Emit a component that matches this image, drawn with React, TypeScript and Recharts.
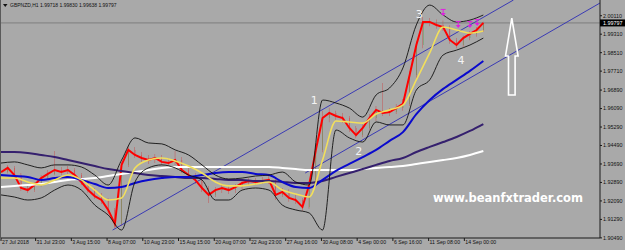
import React from 'react';
import {
  ComposedChart,
  Line,
  Bar,
  Cell,
  Scatter,
  XAxis,
  YAxis,
  ReferenceLine,
} from 'recharts';

// --- Data: GBPNZD H1, x = bar index from the first visible bar ---
const CLOSE_STEP = 12; // one sampled segment every 12 bars
const CLOSES = [
  1.9334, 1.9352, 1.9321, 1.9265, 1.9256, 1.9278, 1.9308, 1.9326, 1.9343, 1.9334,
  1.9343, 1.9321, 1.9291, 1.9256, 1.9230, 1.9213, 1.9170, 1.9109, 1.9365, 1.9430,
  1.9408, 1.9395, 1.9386, 1.9395, 1.9378, 1.9373, 1.9386, 1.9343, 1.9321, 1.9300,
  1.9265, 1.9235, 1.9256, 1.9265, 1.9256, 1.9269, 1.9287, 1.9295, 1.9291, 1.9295,
  1.9300, 1.9235, 1.9248, 1.9222, 1.9213, 1.9183, 1.9278, 1.9430, 1.9568, 1.9590,
  1.9577, 1.9568, 1.9525, 1.9494, 1.9525, 1.9568, 1.9603, 1.9590, 1.9594, 1.9611,
  1.9629, 1.9754, 1.9884, 1.9984, 1.9984, 1.9971, 1.9962, 1.9906, 1.9884, 1.9914,
  1.9932, 1.9949, 1.99797,
];
const HIGHS = [
  1.9352, 1.9365, 1.9360, 1.9330, 1.9278, 1.9290, 1.9321, 1.9343, 1.9425, 1.9356,
  1.9360, 1.9352, 1.9330, 1.9300, 1.9265, 1.9243, 1.9222, 1.9178, 1.9380, 1.9450,
  1.9443, 1.9421, 1.9408, 1.9412, 1.9408, 1.9395, 1.9425, 1.9399, 1.9352, 1.9330,
  1.9308, 1.9274, 1.9269, 1.9282, 1.9278, 1.9282, 1.9300, 1.9308, 1.9308, 1.9313,
  1.9317, 1.9308, 1.9265, 1.9260, 1.9235, 1.9222, 1.9295, 1.9450, 1.9600, 1.9612,
  1.9600, 1.9590, 1.9577, 1.9533, 1.9540, 1.9585, 1.9620, 1.9720, 1.9611, 1.9629,
  1.9650, 1.9770, 1.9900, 2.0005, 2.0001, 1.9995, 1.9990, 1.9970, 1.9915, 1.9925,
  1.9945, 1.9962, 1.9985,
];
const LOWS = [
  1.9318, 1.9328, 1.9308, 1.9252, 1.9243, 1.9248, 1.9270, 1.9300, 1.9320, 1.9321,
  1.9326, 1.9308, 1.9278, 1.9243, 1.9217, 1.9196, 1.9150, 1.9092, 1.9100, 1.9356,
  1.9395, 1.9378, 1.9369, 1.9373, 1.9365, 1.9360, 1.9365, 1.9330, 1.9304, 1.9282,
  1.9248, 1.9200, 1.9226, 1.9243, 1.9239, 1.9243, 1.9260, 1.9278, 1.9278, 1.9282,
  1.9282, 1.9213, 1.9226, 1.9205, 1.9196, 1.9165, 1.9175, 1.9270, 1.9420, 1.9550,
  1.9560, 1.9546, 1.9507, 1.9480, 1.9486, 1.9516, 1.9555, 1.9577, 1.9577, 1.9585,
  1.9600, 1.9620, 1.9740, 1.9870, 1.9965, 1.9955, 1.9945, 1.9890, 1.9870, 1.9875,
  1.9905, 1.9920, 1.9940,
];

const MA_STEP = 24;
const MA_YELLOW = [
  1.9308, 1.9308, 1.9291, 1.9278, 1.9300, 1.9321, 1.9300, 1.9256, 1.9213, 1.9222,
  1.9352, 1.9386, 1.9395, 1.9382, 1.9360, 1.9330, 1.9291, 1.9274, 1.9274, 1.9282,
  1.9291, 1.9256, 1.9239, 1.9226, 1.9386, 1.9555, 1.9551, 1.9546, 1.9585, 1.9603,
  1.9624, 1.9733, 1.9850, 1.9962, 1.9949, 1.9936, 1.9945,
];
const MA_BLUE = [
  1.9321, 1.9317, 1.9313, 1.9300, 1.9308, 1.9313, 1.9300, 1.9282, 1.9265, 1.9269,
  1.9287, 1.9300, 1.9308, 1.9313, 1.9313, 1.9321, 1.9330, 1.9334, 1.9334, 1.9326,
  1.9321, 1.9291, 1.9269, 1.9265, 1.9300, 1.9339, 1.9369, 1.9399, 1.9430, 1.9469,
  1.9507, 1.9585, 1.9646, 1.9694, 1.9733, 1.9772, 1.9815,
];
const MA_PURPLE = [
  1.9421, 1.9421, 1.9417, 1.9408, 1.9399, 1.9386, 1.9373, 1.9360, 1.9347, 1.9339,
  1.9330, 1.9321, 1.9317, 1.9313, 1.9308, 1.9308, 1.9304, 1.9300, 1.9300, 1.9295,
  1.9295, 1.9291, 1.9287, 1.9287, 1.9295, 1.9313, 1.9330, 1.9347, 1.9365, 1.9382,
  1.9395, 1.9421, 1.9443, 1.9464, 1.9486, 1.9512, 1.9542,
];
const MA_WHITE = [
  1.9269, 1.9274, 1.9278, 1.9282, 1.9291, 1.9300, 1.9304, 1.9308, 1.9317, 1.9326,
  1.9334, 1.9343, 1.9352, 1.9356, 1.9356, 1.9356, 1.9356, 1.9356, 1.9356, 1.9356,
  1.9356, 1.9352, 1.9347, 1.9343, 1.9343, 1.9343, 1.9343, 1.9347, 1.9352, 1.9356,
  1.9360, 1.9369, 1.9378, 1.9386, 1.9395, 1.9408, 1.9425,
];
const BB_UPPER = [
  1.9373, 1.9378, 1.9365, 1.9352, 1.9365, 1.9365, 1.9356, 1.9321, 1.9278, 1.9386,
  1.9482, 1.9460, 1.9456, 1.9430, 1.9408, 1.9365, 1.9321, 1.9304, 1.9308, 1.9317,
  1.9321, 1.9334, 1.9291, 1.9278, 1.9646, 1.9633, 1.9611, 1.9572, 1.9668, 1.9698,
  1.9785, 1.9971, 2.0057, 2.0014, 1.9984, 1.9992, 2.0014,
];
const BB_LOWER = [
  1.9235, 1.9226, 1.9213, 1.9222, 1.9256, 1.9278, 1.9256, 1.9191, 1.9148, 1.9083,
  1.9291, 1.9352, 1.9365, 1.9352, 1.9321, 1.9300, 1.9213, 1.9213, 1.9256, 1.9265,
  1.9256, 1.9191, 1.9170, 1.9157, 1.9083, 1.9516, 1.9482, 1.9464, 1.9551, 1.9538,
  1.9538, 1.9689, 1.9733, 1.9841, 1.9862, 1.9884, 1.9914,
];

// hand drawn channel
const CHANNEL_UPPER = [{ bar: 200, price: 1.9083 }, { bar: 918, price: 2.0079 }];
const CHANNEL_LOWER = [{ bar: 545, price: 1.933 }, { bar: 1073, price: 2.0066 }];

const FRACTALS = [
  { bar: 792, price: 2.0023 },
  { bar: 819, price: 1.9971 },
  { bar: 840, price: 1.9971 },
  { bar: 853, price: 1.9979 },
];
const WAVES = [
  { bar: 561, price: 1.9646, label: '1' },
  { bar: 641, price: 1.9421, label: '2' },
  { bar: 749, price: 2.0018, label: '3' },
  { bar: 824, price: 1.9815, label: '4' },
];
const ARROW = [{ bar: 915, price: 2.0001 }];

const LAST_PRICE = 1.99797;
const PRICE_TICKS = [
  2.0011, 1.9931, 1.9851, 1.9771, 1.9689, 1.9609, 1.9529, 1.9449, 1.9369, 1.9289,
  1.9209, 1.9129, 1.9049,
];
const TIME_TICKS = [0, 62, 126, 190, 254, 318, 382, 446, 510, 574, 638, 702, 766, 830];
const TIME_LABELS = [
  '27 Jul 2018', '31 Jul 23:00', '3 Aug 15:00', '8 Aug 07:00', '10 Aug 23:00',
  '15 Aug 15:00', '20 Aug 07:00', '22 Aug 23:00', '27 Aug 16:00', '30 Aug 08:00',
  '4 Sep 00:00', '6 Sep 16:00', '11 Sep 08:00', '14 Sep 00:00',
];

const BG = '#A9A9A9';
const FONT = '"Liberation Sans", Arial, sans-serif';

const toSeries = (values: number[], step: number) =>
  values.map((price, i) => ({ bar: i * step, price }));

const candles = CLOSES.map((close, i) => {
  const open = i === 0 ? close : CLOSES[i - 1];
  return {
    bar: i * CLOSE_STEP,
    open,
    close,
    body: [Math.min(open, close), Math.max(open, close)],
    range: [LOWS[i], HIGHS[i]],
  };
});

const PriceTick = (props: any) => {
  const { x, y, payload } = props;
  const v = payload.value as number;
  if (v === LAST_PRICE) {
    return (
      <g>
        <rect x={x - 3} y={y - 3.5} width={26} height={7} fill="#000" />
        <text x={x} y={y} dy={1.9} fill="#fff" fontSize={5.4} fontFamily={FONT}>{v.toFixed(5)}</text>
      </g>
    );
  }
  return (
    <text x={x} y={y} dy={1.9} fill="#111" fontSize={5.4} fontFamily={FONT}>{v.toFixed(5)}</text>
  );
};

const TimeTick = (props: any) => {
  const { x, payload } = props;
  const label = TIME_LABELS[TIME_TICKS.indexOf(payload.value)];
  return (
    <text x={x + 1} y={243.5} fill="#111" fontSize={5.2} fontFamily={FONT}>{label}</text>
  );
};

const WaveLabel = (props: any) => (
  <text x={props.cx} y={props.cy} textAnchor="middle" dominantBaseline="central"
    fill="#F4F4F4" fontSize={11} fontFamily='"DejaVu Sans", sans-serif'>{props.payload.label}</text>
);

const FractalMark = (props: any) => {
  const { cx, cy } = props;
  return (
    <g stroke="#E020E0" strokeWidth={1} fill="#E020E0">
      <line x1={cx} y1={cy - 3.5} x2={cx} y2={cy + 1} />
      <line x1={cx - 2.5} y1={cy - 3.5} x2={cx + 2.5} y2={cy - 3.5} />
      <path d={`M${cx - 2.5},${cy} L${cx + 2.5},${cy} L${cx},${cy + 3} Z`} stroke="none" />
    </g>
  );
};

const UpArrow = (props: any) => {
  const { cx, cy } = props;
  const d = `M${cx},${cy} L${cx + 6.3},${cy + 38} L${cx + 3.3},${cy + 38} L${cx + 3.3},${cy + 77}
    L${cx - 3.3},${cy + 77} L${cx - 3.3},${cy + 38} L${cx - 6.3},${cy + 38} Z`;
  return <path d={d} fill="none" stroke="#fff" strokeWidth={1.6} strokeLinejoin="miter" />;
};

const App: React.FC = () => {
  return (
    <div style={{ position: 'relative', width: 625, height: 250, background: BG, overflow: 'hidden' }}>
      <style>{'body{margin:0}'}</style>
      <ComposedChart width={625} height={250} data={candles} margin={{ top: 0, right: 0, bottom: 0, left: 1 }} barGap={-4}>
        <XAxis
          dataKey="bar"
          type="number"
          domain={[0, 1073]}
          allowDataOverflow
          ticks={TIME_TICKS}
          interval={0}
          height={12}
          tick={<TimeTick />}
          tickSize={3}
          axisLine={{ stroke: '#1a1a1a', strokeWidth: 1.2 }}
          tickLine={{ stroke: '#1a1a1a' }}
        />
        <YAxis
          orientation="right"
          type="number"
          domain={[1.90485, 2.0079]}
          allowDataOverflow
          ticks={[...PRICE_TICKS, LAST_PRICE]}
          interval={0}
          width={25}
          tick={<PriceTick />}
          tickSize={2}
          tickMargin={1}
          axisLine={{ stroke: '#1a1a1a' }}
          tickLine={{ stroke: '#1a1a1a' }}
        />
        <ReferenceLine y={LAST_PRICE} stroke="#7E7E7E" strokeWidth={1} ifOverflow="hidden" />

        <Line data={CHANNEL_UPPER} dataKey="price" stroke="#3A3AB4" strokeWidth={1} dot={false} isAnimationActive={false} />
        <Line data={CHANNEL_LOWER} dataKey="price" stroke="#3A3AB4" strokeWidth={1} dot={false} isAnimationActive={false} />

        <Line dataKey="close" stroke="#FF0000" strokeWidth={2} dot={false} isAnimationActive={false} />
        <Bar dataKey="range" barSize={2} fill="#E00000" isAnimationActive={false} />
        <Bar dataKey="body" barSize={4} isAnimationActive={false}>
          {candles.map((c, i) => (
            <Cell key={`c-${i}`} fill={c.close > c.open ? '#1FA01F' : '#FF0000'} />
          ))}
        </Bar>

        <Line data={toSeries(MA_WHITE, MA_STEP)} dataKey="price" type="monotone" stroke="#FFFFFF" strokeWidth={2} dot={false} isAnimationActive={false} />
        <Line data={toSeries(MA_PURPLE, MA_STEP)} dataKey="price" type="monotone" stroke="#35206E" strokeWidth={2} dot={false} isAnimationActive={false} />
        <Line data={toSeries(MA_BLUE, MA_STEP)} dataKey="price" type="monotone" stroke="#0A0ACD" strokeWidth={2} dot={false} isAnimationActive={false} />
        <Line data={toSeries(BB_UPPER, MA_STEP)} dataKey="price" type="monotone" stroke="#111111" strokeWidth={0.9} dot={false} isAnimationActive={false} />
        <Line data={toSeries(BB_LOWER, MA_STEP)} dataKey="price" type="monotone" stroke="#111111" strokeWidth={0.9} dot={false} isAnimationActive={false} />
        <Line data={toSeries(MA_YELLOW, MA_STEP)} dataKey="price" type="monotone" stroke="#F2DF5C" strokeWidth={1.6} dot={false} isAnimationActive={false} />

        <Scatter data={FRACTALS} dataKey="price" shape={<FractalMark />} isAnimationActive={false} />
        <Scatter data={WAVES} dataKey="price" shape={<WaveLabel />} isAnimationActive={false} />
        <Scatter data={ARROW} dataKey="price" shape={<UpArrow />} isAnimationActive={false} />
      </ComposedChart>

      {/* frame, header and watermark */}
      <div style={{ position: 'absolute', left: 0, top: 0, width: 1, height: 238, background: '#5A5A5A' }} />
      <svg width={625} height={250} style={{ position: 'absolute', left: 0, top: 0, pointerEvents: 'none' }}>
        <path d="M3,4 L7.5,4 L5.25,7 Z" fill="#111" />
        <text x={10} y={7.3} fontSize={5} fill="#111" fontFamily={FONT}>
          GBPNZD,H1  1.99718 1.99830 1.99638 1.99797
        </text>
        <text x={433} y={202} fontSize={11.5} fontWeight="bold" fill="#fff" fontFamily='"DejaVu Sans", Verdana, sans-serif'>
          www.beanfxtrader.com
        </text>
      </svg>
    </div>
  );
};

export default App;
